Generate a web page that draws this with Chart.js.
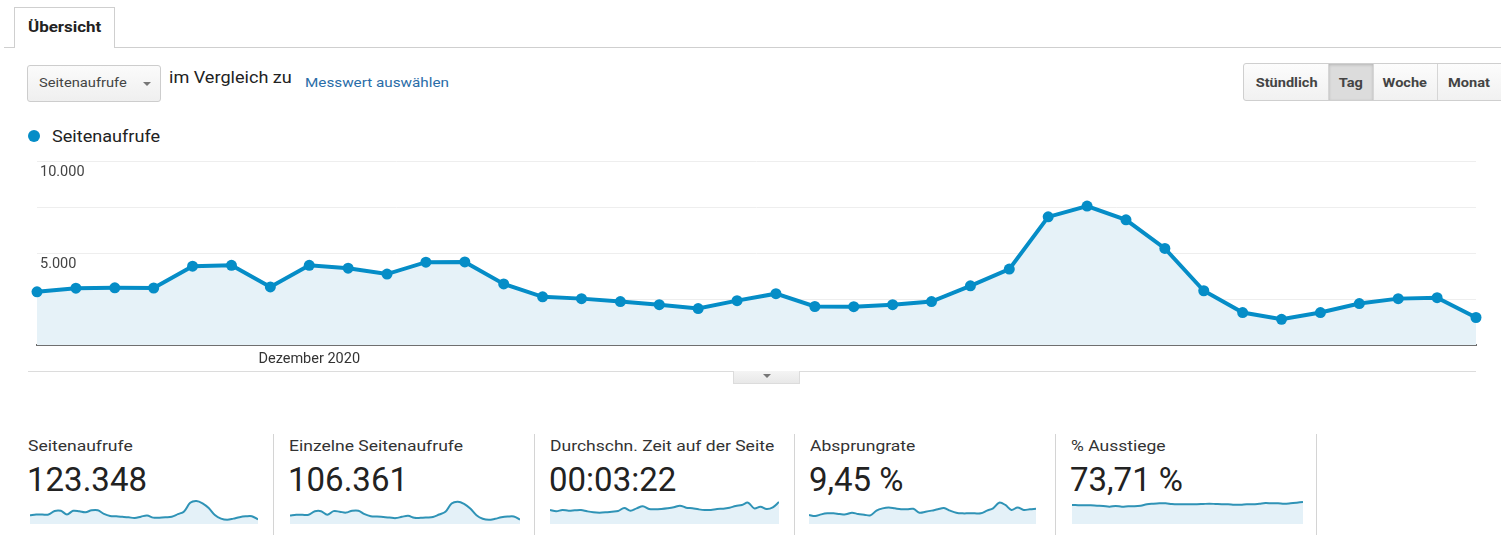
<!DOCTYPE html>
<html lang="de">
<head>
<meta charset="utf-8">
<script src="https://cdn.jsdelivr.net/npm/chart.js@4.4.1/dist/chart.umd.min.js"></script>
<style>
  html, body { margin:0; padding:0; background:#fff; }
  body { width:1501px; height:535px; overflow:hidden; position:relative; font-family: Roboto, "Noto Sans", Arial, sans-serif; color:#222; }
  .abs { position:absolute; }
  .sx { display:inline-block; transform:scaleX(1.13); transform-origin:left center; white-space:nowrap; }
  .tab { left:14px; top:7px; width:101px; height:41px; border:1px solid #cfcfcf; border-bottom:none; background:#fff; box-sizing:border-box; z-index:2; }
  .tab span { position:absolute; left:13px; top:10px; font-weight:700; font-size:15px; color:#222; }
  .rule { left:4px; top:47px; width:1497px; height:1px; background:#cfcfcf; }
  .dd { left:27px; top:65px; width:134px; height:37px; box-sizing:border-box; border:1px solid #cdcdcd; border-radius:3px; background:linear-gradient(#fbfbfb,#efefef); }
  .dd span { position:absolute; left:11px; top:9px; font-size:13px; color:#444; }
  .dd i { position:absolute; left:115px; top:16px; width:0; height:0; border-left:4px solid transparent; border-right:4px solid transparent; border-top:4px solid #777; }
  .cmp { left:169px; top:68px; font-size:16px; color:#222; }
  .link { left:305px; top:74px; font-size:13.5px; color:#2a6da8; }
  .btns { left:1243px; top:63px; height:38px; width:270px; box-sizing:border-box; border:1px solid #cfcfcf; border-radius:3px; background:linear-gradient(#fcfcfc,#f1f1f1); display:flex; overflow:hidden; }
  .btns div { height:100%; font-size:13px; font-weight:700; color:#444; display:flex; align-items:center; justify-content:center; border-right:1px solid #d6d6d6; box-sizing:border-box; }
  .btns div span { display:inline-block; transform:scaleX(1.12); }
  .btns .on { background:#dcdcdc; box-shadow: inset 0 1px 3px rgba(0,0,0,0.18); }
  .legdot { left:28px; top:130px; width:12px; height:12px; border-radius:50%; background:#058dc7; }
  .legtxt { left:52px; top:127px; font-size:16px; color:#222; }
  .sep { left:28px; top:371px; width:1448px; height:1px; background:#dcdcdc; }
  .handle { left:733px; top:371px; width:67px; height:13px; box-sizing:border-box; border:1px solid #dcdcdc; border-top:none; background:linear-gradient(#f4f4f4,#e8e8e8); }
  .handle i { position:absolute; left:29px; top:3px; width:0; height:0; border-left:4px solid transparent; border-right:4px solid transparent; border-top:4px solid #777; }
  .vdiv { top:434px; width:1px; height:101px; background:#d4d4d4; }
  .ctitle { top:437px; font-size:15.5px; color:#333; white-space:nowrap; }
  .cval { top:460px; font-size:33px; color:#222; white-space:nowrap; }
</style>
</head>
<body>
<div class="abs rule"></div>
<div class="abs tab"><span class="sx">Übersicht</span></div>
<div class="abs dd"><span class="sx">Seitenaufrufe</span><i></i></div>
<div class="abs cmp"><span class="sx">im Vergleich zu</span></div>
<div class="abs link"><span class="sx">Messwert auswählen</span></div>
<div class="abs btns">
  <div style="width:86px"><span>Stündlich</span></div>
  <div class="on" style="width:45px"><span>Tag</span></div>
  <div style="width:64px"><span>Woche</span></div>
  <div style="width:75px;border-right:none;justify-content:flex-start;padding-left:10px"><span style="transform-origin:left center">Monat</span></div>
</div>
<div class="abs legdot"></div>
<div class="abs legtxt"><span class="sx">Seitenaufrufe</span></div>

<canvas id="main" class="abs" style="left:0;top:150px;width:1501px;height:230px"></canvas>

<div class="abs sep"></div>
<div class="abs handle"><i></i></div>

<div id="cards"></div>

<script>
// ---- Data ----
const categories = ['24. Nov.','25. Nov.','26. Nov.','27. Nov.','28. Nov.','29. Nov.','30. Nov.',
  '1. Dez.','2. Dez.','3. Dez.','4. Dez.','5. Dez.','6. Dez.','7. Dez.','8. Dez.','9. Dez.','10. Dez.',
  '11. Dez.','12. Dez.','13. Dez.','14. Dez.','15. Dez.','16. Dez.','17. Dez.','18. Dez.','19. Dez.',
  '20. Dez.','21. Dez.','22. Dez.','23. Dez.','24. Dez.','25. Dez.','26. Dez.','27. Dez.','28. Dez.',
  '29. Dez.','30. Dez.','31. Dez.'];

const seitenaufrufe = [2900,3100,3120,3110,4300,4350,3170,4350,4190,3870,4520,4530,3330,2630,2530,2370,2200,1990,2420,2800,2100,2090,2200,2370,3230,4140,6990,7580,6830,5270,2960,1770,1400,1770,2260,2530,2580,1500];

const einzelneSeitenaufrufe = [2500,2690,2680,2700,3720,3750,2740,3760,3600,3330,3890,3900,2880,2270,2180,2040,1900,1720,2090,2400,1810,1800,1900,2040,2780,3570,6000,6520,5880,4530,2560,1530,1210,1530,1950,2180,2220,1300];

const zeitAufSeite = [204,196,204,200,202,204,196,190,188,190,194,198,216,200,214,226,210,208,210,214,220,230,218,214,208,204,204,210,212,218,228,234,248,214,224,210,220,252];

const absprungrate = [7.96,7.5,8.25,8.7,8.7,8.4,8.25,9.0,8.4,8.1,7.8,9.9,10.9,11.3,10.9,10.5,10.5,10.7,9.0,9.4,9.9,10.5,11.0,9.9,9.0,8.7,8.7,8.7,8.7,9.9,10.9,13.4,12.4,10.2,11.3,10.2,10.5,10.7];

const ausstiege = [73.0,72.8,72.7,72.7,72.3,72.0,71.3,72.0,71.3,71.7,71.7,72.3,73.7,74.3,74.7,74.7,74.0,73.7,73.7,73.7,73.7,74.0,74.3,74.0,73.7,73.7,73.3,73.3,73.7,73.7,74.3,75.0,74.7,74.7,74.3,74.7,75.3,76.0];

const yTickValues = [5000, 10000];
const yTickLabels = ['5.000', '10.000'];
const xTickCategory = '1. Dez.';
const xTickLabel = 'Dezember 2020';

const cardTitles = ['Seitenaufrufe','Einzelne Seitenaufrufe','Durchschn. Zeit auf der Seite','Absprungrate','% Ausstiege'];
const cardValues = ['123.348','106.361','00:03:22','9,45 %','73,71 %'];
const cardSeries = [seitenaufrufe, einzelneSeitenaufrufe, zeitAufSeite, absprungrate, ausstiege];

// ---- Layout/style (not data) ----
const cardLeft = [28, 289, 550, 810, 1071];
const dividerX = [273, 534, 794, 1055, 1316];
const sparkBox = [[30,228],[290,230],[550,229],[809,227],[1072,231]];
const sparkRange = [[0,8900],[0,7900],[120,282],[4,15.9],[54,81]];

const BLUE = '#058dc7';

Chart.defaults.font.family = 'Roboto, "Noto Sans", Arial, sans-serif';
Chart.defaults.animation = false;

new Chart(document.getElementById('main'), {
  type: 'line',
  data: {
    labels: categories,
    datasets: [{
      data: seitenaufrufe,
      borderColor: BLUE,
      borderWidth: 4,
      backgroundColor: '#e6f2f8',
      fill: 'origin',
      pointRadius: 5.5,
      pointBackgroundColor: BLUE,
      pointBorderWidth: 0,
      tension: 0,
      clip: false
    }]
  },
  options: {
    responsive: false,
    maintainAspectRatio: false,
    events: [],
    layout: { padding: { left: 37, right: 25, top: 9, bottom: 0 } },
    plugins: { legend: { display: false }, tooltip: { enabled: false } },
    scales: {
      x: {
        offset: false,
        grid: { display: false, drawTicks: false },
        border: { display: true, color: '#6f6f6f', width: 2 },
        ticks: {
          autoSkip: false, maxRotation: 0, padding: 6,
          color: '#333', font: { size: 14.5 },
          callback: function(v, i) { return categories[i] === xTickCategory ? xTickLabel : ''; }
        },
        afterFit: s => { s.height = 35; }
      },
      y: {
        min: 0, max: 10000,
        grid: { color: '#eeeeee', lineWidth: 1, drawTicks: false },
        border: { display: false },
        ticks: {
          stepSize: 2500, mirror: true, padding: 3, labelOffset: 11,
          color: '#444', font: { size: 14.5 },
          callback: function(v) { const k = yTickValues.indexOf(v); return k >= 0 ? yTickLabels[k] : ''; }
        },
        afterFit: s => { s.width = 0; }
      }
    }
  }
});

const cards = document.getElementById('cards');
cardTitles.forEach((t, i) => {
  const d = document.createElement('div');
  d.className = 'abs vdiv'; d.style.left = dividerX[i] + 'px'; cards.appendChild(d);
  const ti = document.createElement('div');
  ti.className = 'abs ctitle'; ti.style.left = cardLeft[i] + 'px';
  const ts = document.createElement('span'); ts.className = 'sx'; ts.textContent = t; ti.appendChild(ts);
  cards.appendChild(ti);
  const va = document.createElement('div');
  va.className = 'abs cval'; va.style.left = (cardLeft[i] - 1) + 'px'; va.textContent = cardValues[i]; cards.appendChild(va);
  const c = document.createElement('canvas');
  c.className = 'abs';
  c.style.left = sparkBox[i][0] + 'px'; c.style.top = '497px';
  c.style.width = sparkBox[i][1] + 'px'; c.style.height = '27px';
  c.width = sparkBox[i][1]; c.height = 27;
  cards.appendChild(c);
  new Chart(c, {
    type: 'line',
    data: { labels: categories, datasets: [{
      data: cardSeries[i], borderColor: '#2f93b6', borderWidth: 2,
      backgroundColor: '#e4f1f8', fill: 'start', pointRadius: 0, tension: 0.35, clip: false
    }]},
    options: {
      responsive: false, maintainAspectRatio: false, events: [],
      layout: { padding: 0 },
      plugins: { legend: { display: false }, tooltip: { enabled: false } },
      scales: {
        x: { display: false, offset: false },
        y: { display: false, min: sparkRange[i][0], max: sparkRange[i][1] }
      }
    }
  });
});
</script>
</body>
</html>
